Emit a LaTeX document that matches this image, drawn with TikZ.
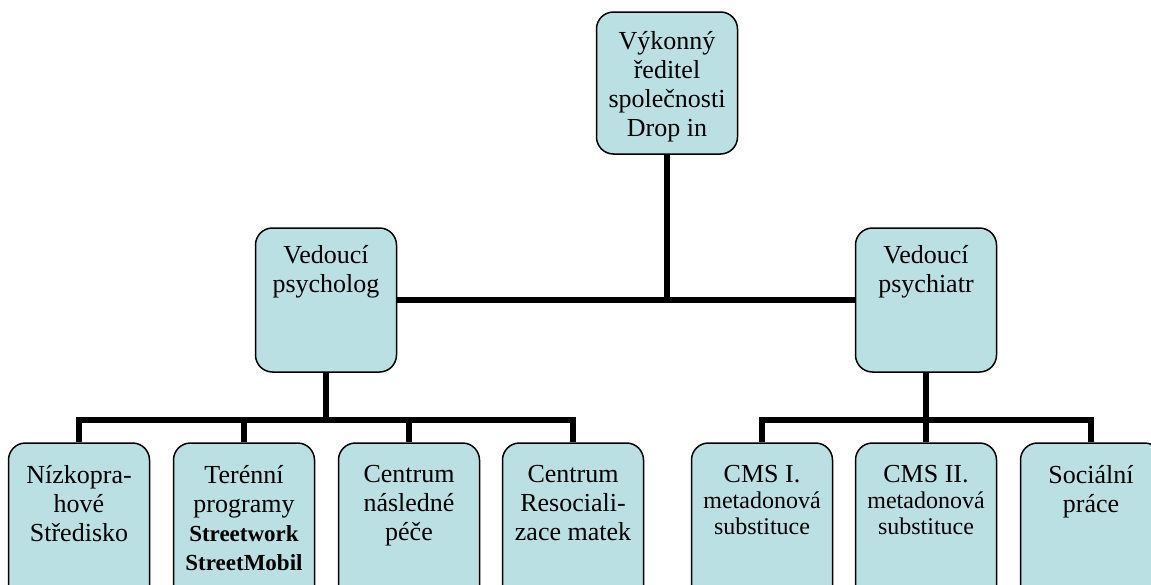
\documentclass[tikz,border=0pt]{standalone}
\usepackage{fontspec}
\setmainfont{Liberation Serif}
\definecolor{boxfill}{RGB}{187,224,227}
\newcommand{\boldline}[1]{{\fontsize{23}{28}\selectfont\bfseries #1}}
\newcommand{\smallline}[1]{{\fontsize{24}{24}\selectfont #1}}
\tikzset{
    unit/.style={draw=black, line width=1.5pt, fill=boxfill, rounded corners=17pt,
        minimum width=141pt, inner sep=0pt},
    unittext/.style={align=center, inner sep=0pt, anchor=north,
        font=\fontsize{26}{29}\selectfont},
    conn/.style={line width=6pt, line join=miter}
}
\begin{document}
\begin{tikzpicture}[x=1pt, y=-1pt]
    \useasboundingbox (0,0) rectangle (1151,584);

    % boxes
    \node[unit, minimum height=142pt] (ceo) at (667,83) {};
    \node[unit, minimum height=144pt] (psycholog) at (326,300) {};
    \node[unit, minimum height=144pt] (psychiatr) at (926,300) {};
    \node[unit, minimum height=170pt] (nizko) at (79,528) {};
    \node[unit, minimum height=170pt] (teren) at (244,528) {};
    \node[unit, minimum height=170pt] (centrum) at (409,528) {};
    \node[unit, minimum height=170pt] (resoc) at (573,528) {};
    \node[unit, minimum height=170pt] (cms1) at (762,528) {};
    \node[unit, minimum height=170pt] (cms2) at (926,528) {};
    \node[unit, minimum height=170pt] (social) at (1091,528) {};

    % texts
    \node[unittext] (ceo-t) at ([yshift=-20pt]ceo.north)
        {Výkonný\\ředitel\\společnosti\\Drop in};
    \node[unittext] (psycholog-t) at ([yshift=-18pt]psycholog.north) {Vedoucí\\psycholog};
    \node[unittext] (psychiatr-t) at ([yshift=-18pt]psychiatr.north) {Vedoucí\\psychiatr};
    \node[unittext] (nizko-t) at ([yshift=-23pt]nizko.north) {Nízkopra-\\hové\\Středisko};
    \node[unittext] (teren-t) at ([yshift=-23pt]teren.north)
        {Terénní\\programy\\\boldline{Streetwork}\\\boldline{StreetMobil}};
    \node[unittext] (centrum-t) at ([yshift=-23pt]centrum.north) {Centrum\\následné\\péče};
    \node[unittext] (resoc-t) at ([yshift=-23pt]resoc.north) {Centrum\\Resociali-\\zace matek};
    \node[unittext] (cms1-t) at ([yshift=-23pt]cms1.north)
        {CMS I.\\[-3pt]\smallline{metadonová}\\[-3pt]\smallline{substituce}};
    \node[unittext] (cms2-t) at ([yshift=-23pt]cms2.north)
        {CMS II.\\[-3pt]\smallline{metadonová}\\[-3pt]\smallline{substituce}};
    \node[unittext] (social-t) at ([yshift=-23pt]social.north) {Sociální\\práce};

    % connectors
    \coordinate (lbus) at (326,420);
    \coordinate (rbus) at (926,420);
    \draw[conn] (ceo.south) -- (ceo.south |- psycholog.east);
    \draw[conn] (psycholog.east) -- (psychiatr.west);
    \draw[conn] (psycholog.south) -- (lbus);
    \draw[conn] (psychiatr.south) -- (rbus);
    \draw[conn] (nizko.north) -- (nizko.north |- lbus) -- (resoc.north |- lbus) -- (resoc.north);
    \draw[conn] (cms1.north) -- (cms1.north |- rbus) -- (social.north |- rbus) -- (social.north);
    \foreach \n in {teren, centrum}
        \draw[conn] (\n.north) -- (\n.north |- lbus);
    \draw[conn] (cms2.north) -- (rbus);
\end{tikzpicture}
\end{document}
